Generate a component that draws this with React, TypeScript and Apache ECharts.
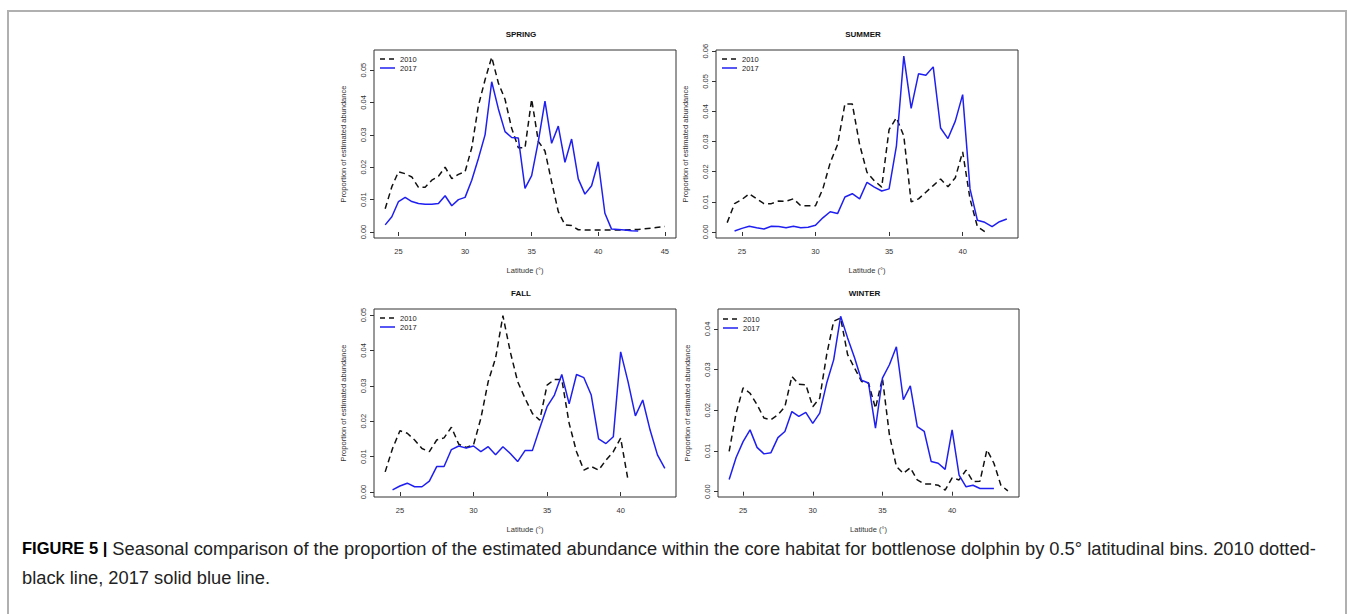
import React, { useEffect, useRef } from "react";
import * as echarts from "echarts";

// ---------- data (0.5° latitudinal bins) ----------
const spring2010Start = 24;
const spring2010 = [0.0072, 0.0140, 0.0186, 0.0180, 0.0170, 0.0138, 0.0138, 0.0160, 0.0172, 0.0200, 0.0165, 0.0178, 0.0186, 0.0260, 0.0390, 0.0470, 0.0540, 0.0460, 0.0410, 0.0320, 0.0260, 0.0260, 0.0410, 0.0280, 0.0250, 0.0155, 0.0063, 0.0022, 0.0020, 0.0007, 0.0006, 0.0006, 0.0006, 0.0006, 0.0006, 0.0006, 0.0006, 0.0007, 0.0008, 0.0010, 0.0012, 0.0015, 0.0017];
const spring2017Start = 24;
const spring2017 = [0.0022, 0.0047, 0.0094, 0.0107, 0.0094, 0.0088, 0.0086, 0.0086, 0.0088, 0.0112, 0.0081, 0.0100, 0.0107, 0.0160, 0.0227, 0.0300, 0.0464, 0.0380, 0.0310, 0.0292, 0.0290, 0.0135, 0.0174, 0.0280, 0.0404, 0.0274, 0.0327, 0.0215, 0.0287, 0.0164, 0.0117, 0.0143, 0.0217, 0.0058, 0.0009, 0.0008, 0.0006, 0.0004, 0.0003];

const summer2010Start = 24;
const summer2010 = [0.0031, 0.0094, 0.0108, 0.0127, 0.0110, 0.0094, 0.0094, 0.0103, 0.0102, 0.0110, 0.0087, 0.0087, 0.0087, 0.0143, 0.0230, 0.0290, 0.0425, 0.0425, 0.0290, 0.0198, 0.0170, 0.0149, 0.0340, 0.0379, 0.0319, 0.0100, 0.0110, 0.0132, 0.0154, 0.0176, 0.0150, 0.0180, 0.0266, 0.0110, 0.0018, 0.0001];
const summer2017Start = 24.5;
const summer2017 = [0.0003, 0.0012, 0.0019, 0.0014, 0.0010, 0.0019, 0.0018, 0.0014, 0.0019, 0.0014, 0.0016, 0.0022, 0.0047, 0.0067, 0.0061, 0.0116, 0.0127, 0.0110, 0.0165, 0.0149, 0.0136, 0.0143, 0.0286, 0.0584, 0.0410, 0.0525, 0.0520, 0.0548, 0.0345, 0.0310, 0.0368, 0.0456, 0.0143, 0.0039, 0.0032, 0.0018, 0.0034, 0.0043];

const fall2010Start = 24;
const fall2010 = [0.0057, 0.0123, 0.0173, 0.0166, 0.0147, 0.0123, 0.0114, 0.0147, 0.0153, 0.0183, 0.0135, 0.0126, 0.0133, 0.0208, 0.0312, 0.0378, 0.0498, 0.0396, 0.0312, 0.0265, 0.0222, 0.0203, 0.0302, 0.0318, 0.0318, 0.0194, 0.0114, 0.0062, 0.0072, 0.0062, 0.0090, 0.0114, 0.0152, 0.0034];
const fall2017Start = 24.5;
const fall2017 = [0.0006, 0.0017, 0.0025, 0.0015, 0.0015, 0.0031, 0.0072, 0.0072, 0.0120, 0.0130, 0.0124, 0.0130, 0.0114, 0.0128, 0.0105, 0.0128, 0.0109, 0.0086, 0.0117, 0.0117, 0.0180, 0.0241, 0.0274, 0.0332, 0.0249, 0.0332, 0.0323, 0.0274, 0.0150, 0.0137, 0.0156, 0.0396, 0.0312, 0.0215, 0.0260, 0.0175, 0.0105, 0.0067];

const winter2010Start = 24;
const winter2010 = [0.0099, 0.0193, 0.0255, 0.0242, 0.0214, 0.0181, 0.0177, 0.0189, 0.0209, 0.0283, 0.0264, 0.0263, 0.0209, 0.0230, 0.0337, 0.0419, 0.0427, 0.0337, 0.0304, 0.0271, 0.0267, 0.0205, 0.0279, 0.0140, 0.0062, 0.0045, 0.0059, 0.0029, 0.0019, 0.0019, 0.0016, 0.0004, 0.0034, 0.0029, 0.0053, 0.0025, 0.0026, 0.0103, 0.0070, 0.0016, 0.0002];
const winter2017Start = 24;
const winter2017 = [0.0030, 0.0084, 0.0123, 0.0152, 0.0109, 0.0093, 0.0096, 0.0133, 0.0148, 0.0197, 0.0185, 0.0195, 0.0168, 0.0193, 0.0267, 0.0324, 0.0431, 0.0378, 0.0329, 0.0274, 0.0267, 0.0156, 0.0279, 0.0312, 0.0356, 0.0226, 0.0260, 0.0160, 0.0148, 0.0074, 0.0070, 0.0055, 0.0152, 0.0041, 0.0012, 0.0016, 0.0008, 0.0008, 0.0008];

const seasons = ["SPRING", "SUMMER", "FALL", "WINTER"];
const years = ["2010", "2017"];
const xTicksSpring = [25, 30, 35, 40, 45];
const xTicksOther = [25, 30, 35, 40];
const yTicksSpring = [0, 0.01, 0.02, 0.03, 0.04, 0.05];
const yTicksSummer = [0, 0.01, 0.02, 0.03, 0.04, 0.05, 0.06];
const yTicksFall = [0, 0.01, 0.02, 0.03, 0.04, 0.05];
const yTicksWinter = [0, 0.01, 0.02, 0.03, 0.04];
const xLabel = "Latitude (°)";
const yLabel = "Proportion of estimated abundance";
const captionBold = "FIGURE 5 |";
const captionLine1 =
  " Seasonal comparison of the proportion of the estimated abundance within the core habitat for bottlenose dolphin by 0.5° latitudinal bins. 2010 dotted-";
const captionLine2 = "black line, 2017 solid blue line.";

// ---------- helpers ----------
const toPairs = (start: number, vals: number[]) =>
  vals.map((v, i) => [start + i * 0.5, v]);

const FONT = 'Arial, "Liberation Sans", Helvetica, sans-serif';
const AX = "#333";
const BLUE = "#1f1ff2";
const BLACK = "#111";
const DASH = [6, 4];

const panels = [
  {
    title: seasons[0],
    grid: { left: 374, top: 50, width: 302, height: 188 },
    x: [23.16, 45.84], xt: xTicksSpring,
    y: [-0.00185, 0.0562], yt: yTicksSpring,
    d10: toPairs(spring2010Start, spring2010),
    d17: toPairs(spring2017Start, spring2017),
    legend: { left: 380, top: 59 },
  },
  {
    title: seasons[1],
    grid: { left: 716, top: 50, width: 302, height: 188 },
    x: [23.24, 43.76], xt: xTicksOther,
    y: [-0.002, 0.0604], yt: yTicksSummer,
    d10: toPairs(summer2010Start, summer2010),
    d17: toPairs(summer2017Start, summer2017),
    legend: { left: 722, top: 59 },
  },
  {
    title: seasons[2],
    grid: { left: 374, top: 309, width: 302, height: 188 },
    x: [23.24, 43.76], xt: xTicksOther,
    y: [-0.0014, 0.0517], yt: yTicksFall,
    d10: toPairs(fall2010Start, fall2010),
    d17: toPairs(fall2017Start, fall2017),
    legend: { left: 380, top: 318 },
  },
  {
    title: seasons[3],
    grid: { left: 718, top: 309, width: 301, height: 188 },
    x: [23.2, 44.8], xt: xTicksOther,
    y: [-0.0013, 0.0449], yt: yTicksWinter,
    d10: toPairs(winter2010Start, winter2010),
    d17: toPairs(winter2017Start, winter2017),
    legend: { left: 723, top: 319 },
  },
];

export default function App() {
  const ref = useRef<HTMLDivElement>(null);

  useEffect(() => {
    if (!ref.current) return;
    const chart = echarts.init(ref.current, undefined, { renderer: "svg" });

    const grids: any[] = [];
    const xAxes: any[] = [];
    const yAxes: any[] = [];
    const series: any[] = [];
    const graphics: any[] = [];

    panels.forEach((p, i) => {
      grids.push({
        ...p.grid,
        show: true,
        borderColor: AX,
        borderWidth: 1,
        backgroundColor: "transparent",
        containLabel: false,
      });
      xAxes.push({
        type: "value",
        gridIndex: i,
        min: p.x[0],
        max: p.x[1],
        name: xLabel,
        nameLocation: "middle",
        nameGap: 28,
        nameTextStyle: { fontSize: 7.5, color: AX, fontFamily: FONT },
        axisLine: { show: false },
        axisTick: {
          show: true,
          length: 4,
          customValues: p.xt,
          lineStyle: { color: AX, width: 1 },
        },
        axisLabel: {
          show: true,
          customValues: p.xt,
          margin: 9,
          fontSize: 7.5,
          color: AX,
          fontFamily: FONT,
          formatter: (v: number) => String(v),
        },
        splitLine: { show: false },
      });
      yAxes.push({
        type: "value",
        gridIndex: i,
        min: p.y[0],
        max: p.y[1],
        name: yLabel,
        nameLocation: "middle",
        nameGap: 27,
        nameRotate: 90,
        nameTextStyle: { fontSize: 7.5, color: AX, fontFamily: FONT },
        axisLine: { show: false },
        axisTick: {
          show: true,
          length: 4,
          customValues: p.yt,
          lineStyle: { color: AX, width: 1 },
        },
        axisLabel: {
          show: true,
          customValues: p.yt,
          rotate: 90,
          margin: 7,
          fontSize: 7.5,
          color: AX,
          fontFamily: FONT,
          formatter: (v: number) => v.toFixed(2),
        },
        splitLine: { show: false },
      });
      series.push({
        type: "line",
        name: years[0],
        xAxisIndex: i,
        yAxisIndex: i,
        data: p.d10,
        symbol: "none",
        lineStyle: { color: BLACK, width: 1.5, type: DASH },
        itemStyle: { color: BLACK },
        silent: true,
        z: 2,
      });
      series.push({
        type: "line",
        name: years[1],
        xAxisIndex: i,
        yAxisIndex: i,
        data: p.d17,
        symbol: "none",
        lineStyle: { color: BLUE, width: 1.5 },
        itemStyle: { color: BLUE },
        silent: true,
        z: 3,
      });

      // legend (key) drawn as graphic elements
      const lx = p.legend.left;
      const ly = p.legend.top;
      graphics.push({
        type: "group",
        silent: true,
        children: [
          {
            type: "line",
            shape: { x1: lx, y1: ly, x2: lx + 15, y2: ly },
            style: { stroke: BLACK, lineWidth: 1.5, lineDash: [5, 4] },
          },
          {
            type: "text",
            x: lx + 20,
            y: ly,
            style: {
              text: years[0],
              fontSize: 7.5,
              fontFamily: FONT,
              fill: "#222",
              textVerticalAlign: "middle",
            },
          },
          {
            type: "line",
            shape: { x1: lx, y1: ly + 9, x2: lx + 15, y2: ly + 9 },
            style: { stroke: BLUE, lineWidth: 1.5 },
          },
          {
            type: "text",
            x: lx + 20,
            y: ly + 9,
            style: {
              text: years[1],
              fontSize: 7.5,
              fontFamily: FONT,
              fill: "#222",
              textVerticalAlign: "middle",
            },
          },
        ],
      });

      graphics.push({
        type: "text",
        x: p.grid.left + p.grid.width / 2 - 4,
        y: p.grid.top - 16,
        style: {
          text: p.title,
          fontSize: 8,
          fontWeight: "bold",
          fontFamily: FONT,
          fill: "#111",
          textAlign: "center",
          textVerticalAlign: "middle",
        },
      });
    });

    graphics.push({
      type: "rect",
      shape: { x: 8, y: 11, width: 1338, height: 640 },
      style: { fill: "none", stroke: "#b0b0b0", lineWidth: 2 },
      silent: true,
    });
    graphics.push({
      type: "text",
      x: 22,
      y: 548,
      style: {
        text: "{b|" + captionBold + "}" + captionLine1,
        rich: {
          b: { fontWeight: "bold", fill: "#000", fontSize: 16.5, fontFamily: FONT },
        },
        fontSize: 18.3,
        fontFamily: FONT,
        fill: "#222",
        textVerticalAlign: "middle",
      },
    });
    graphics.push({
      type: "text",
      x: 22,
      y: 577,
      style: {
        text: captionLine2,
        fontSize: 18.3,
        fontFamily: FONT,
        fill: "#222",
        textVerticalAlign: "middle",
      },
    });

    chart.setOption({
      animation: false,
      backgroundColor: "#fff",
      grid: grids,
      xAxis: xAxes,
      yAxis: yAxes,
      series,
      graphic: graphics,
    });

    return () => chart.dispose();
  }, []);

  return (
    <div
      ref={ref}
      style={{ position: "absolute", left: 0, top: 0, width: 1356, height: 614 }}
    />
  );
}
